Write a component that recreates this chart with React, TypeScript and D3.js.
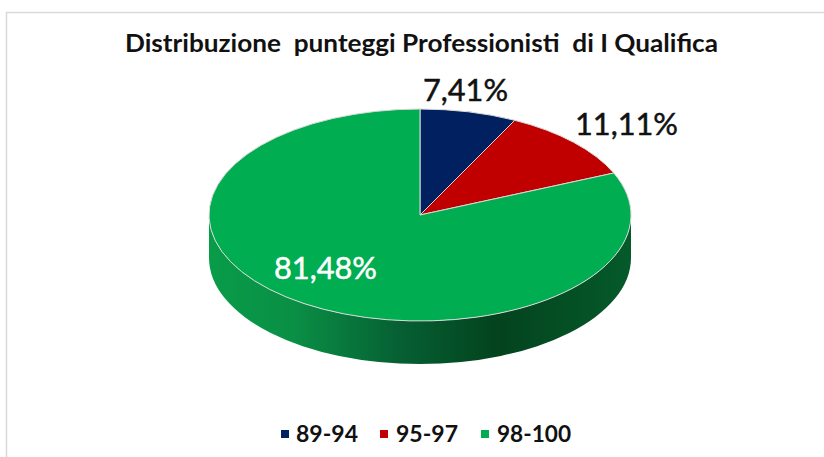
import React from "react";
import * as d3 from "d3";

const categories = ["89-94", "95-97", "98-100"];
const values = [7.41, 11.11, 81.48];
const labels = ["7,41%", "11,11%", "81,48%"];
const colors = ["#002060", "#C00000", "#00AD50"];
const title = "Distribuzione  punteggi Professionisti  di I Qualifica";

const W = 824, H = 457;
const cx = 420, cy = 215, rx = 211, ry = 106, depth = 43;
const font = "Lato, 'Noto Sans', sans-serif";

export default function App() {
  const k = ry / rx;
  const pie = d3.pie<number>().value((d) => d).sort(null);
  const arc = d3.arc<d3.PieArcDatum<number>>().innerRadius(0).outerRadius(rx);
  const arcs = pie(values);

  const side = d3.path();
  const dUnit = depth / k;
  side.moveTo(rx, 0);
  side.arc(0, 0, rx, 0, Math.PI, false);
  side.lineTo(-rx, dUnit);
  side.arc(0, dUnit, rx, Math.PI, 0, true);
  side.closePath();

  const labelPos = [
    { x: 423, y: 101, w: 85, fill: "#111" },
    { x: 575, y: 135, w: 103, fill: "#111" },
    { x: 274, y: 279, w: 103, fill: "#fff" },
  ];
  const legendPos = [
    { sx: 281, tx: 296, w: 62 },
    { sx: 380, tx: 396, w: 62 },
    { sx: 481, tx: 497, w: 74 },
  ];

  return (
    <svg
      width={W}
      height={H}
      viewBox={`0 0 ${W} ${H}`}
      style={{ position: "fixed", left: 0, top: 0, display: "block", background: "#fff" }}
    >
      <path d={`M6.5 ${H} V12.5 H${W}`} fill="none" stroke="#d9d9d9" strokeWidth={1.5} />
      <defs>
        <linearGradient id="wall" gradientUnits="userSpaceOnUse" x1={-rx} x2={rx} y1={0} y2={0}>
          <stop offset="0" stopColor="#089C49" />
          <stop offset="0.2" stopColor="#0A8F45" />
          <stop offset="0.45" stopColor="#066033" />
          <stop offset="0.68" stopColor="#03431E" />
          <stop offset="1" stopColor="#055A2A" />
        </linearGradient>
      </defs>
      <text
        x={125}
        y={52}
        fontFamily={font}
        fontWeight={700}
        fontSize={25.5}
        fill="#111"
        textLength={593}
        lengthAdjust="spacingAndGlyphs"
        style={{ whiteSpace: "pre" }}
      >
        {title}
      </text>
      <g transform={`translate(${cx},${cy}) scale(1,${k})`}>
        <path d={side.toString()} fill="url(#wall)" />
        {arcs.map((a, i) => (
          <path
            key={categories[i]}
            d={arc(a) ?? ""}
            fill={colors[i]}
            stroke="#d9d9d9"
            strokeWidth={1}
            vectorEffect="non-scaling-stroke"
          />
        ))}
      </g>
      {labels.map((t, i) => (
        <text
          key={t}
          x={labelPos[i].x}
          y={labelPos[i].y}
          fontFamily={font}
          fontSize={31}
          fill={labelPos[i].fill}
          stroke={labelPos[i].fill}
          strokeWidth={0.5}
          textLength={labelPos[i].w}
          lengthAdjust="spacingAndGlyphs"
        >
          {t}
        </text>
      ))}
      {categories.map((c, i) => (
        <g key={c}>
          <rect x={legendPos[i].sx} y={430} width={8} height={8} fill={colors[i]} />
          <text
            x={legendPos[i].tx}
            y={442}
            fontFamily={font}
            fontWeight={700}
            fontSize={23.5}
            fill="#111"
            textLength={legendPos[i].w}
            lengthAdjust="spacingAndGlyphs"
          >
            {c}
          </text>
        </g>
      ))}
    </svg>
  );
}
